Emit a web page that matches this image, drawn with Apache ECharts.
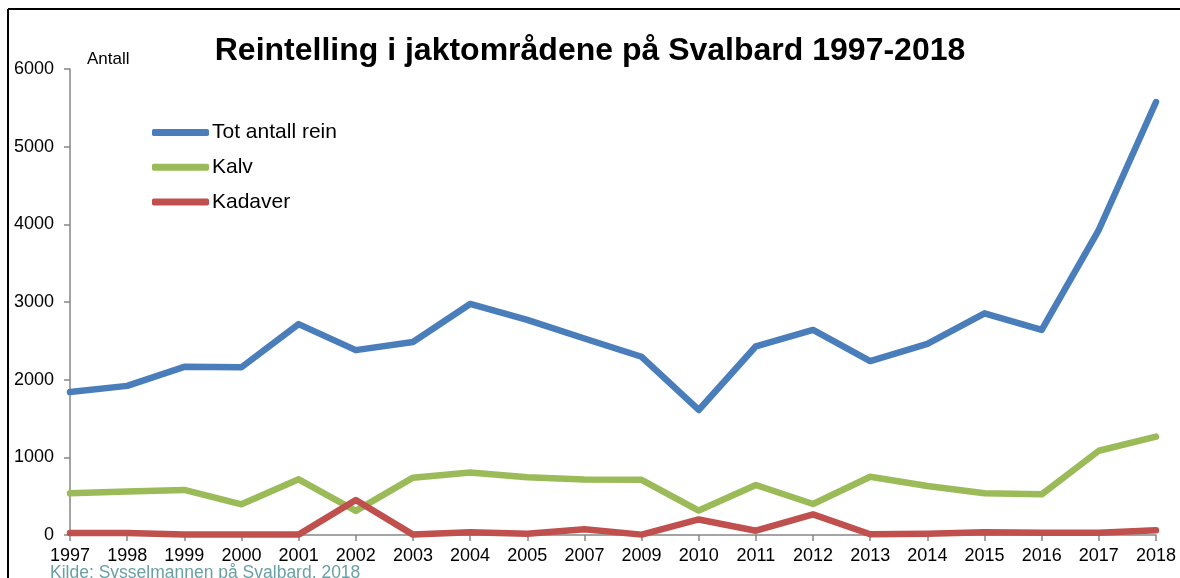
<!DOCTYPE html>
<html>
<head>
<meta charset="utf-8">
<script src="https://cdn.jsdelivr.net/npm/echarts@6/dist/echarts.min.js"></script>
<style>
html,body{margin:0;padding:0;background:#fff;}
#chart{width:1180px;height:578px;}
</style>
</head>
<body>
<div id="chart"></div>
<script>
const years = ['1997','1998','1999','2000','2001','2002','2003','2004','2005','2007','2009','2010','2011','2012','2013','2014','2015','2016','2017','2018'];
const totAntall = [1840,1920,2165,2160,2715,2380,2485,2975,2770,2530,2295,1610,2430,2640,2240,2460,2855,2640,3930,5575];
const kalv = [537,560,580,395,717,310,738,805,743,715,710,315,644,399,750,631,537,524,1085,1266];
const kadaver = [25,25,5,5,5,450,5,35,15,73,5,200,55,265,10,15,35,30,30,60];
const seriesNames = ['Tot antall rein','Kalv','Kadaver'];
const yTicks = [0,1000,2000,3000,4000,5000,6000];

const FONT = '"Liberation Sans", Arial, sans-serif';
const chart = echarts.init(document.getElementById('chart'), null, {renderer:'canvas'});
const colors = ['#4a7ebb','#9bbb59','#c0504d'];
const data = [totAntall, kalv, kadaver];

chart.setOption({
  animation:false,
  backgroundColor:'#fff',
  color: colors,
  title:{
    text:'Reintelling i jaktområdene på Svalbard 1997-2018',
    left:'center', top:30,
    textStyle:{fontFamily:FONT, fontSize:32, fontWeight:'bold', color:'#000'}
  },
  legend:{
    orient:'vertical', left:152, top:122, padding:0,
    itemWidth:57, itemHeight:7, itemGap:13.7,
    icon:'roundRect',
    textStyle:{fontFamily:FONT, fontSize:21, color:'#000', padding:[0,0,0,-2]},
    data: seriesNames
  },
  grid:{left:70, right:24, top:69, bottom:43, containLabel:false},
  xAxis:{
    type:'category', data:years, boundaryGap:false,
    axisLine:{lineStyle:{color:'#868686', width:1.5}},
    axisTick:{show:true, length:6, lineStyle:{color:'#868686', width:1.5}},
    axisLabel:{color:'#000', fontFamily:FONT, fontSize:18, margin:12},
    splitLine:{show:false}
  },
  yAxis:{
    type:'value', min:yTicks[0], max:yTicks[yTicks.length-1], interval:1000,
    axisLine:{show:true, lineStyle:{color:'#868686', width:1.5}},
    axisTick:{show:true, length:6, lineStyle:{color:'#868686', width:1.5}},
    axisLabel:{color:'#000', fontFamily:FONT, fontSize:18, margin:16, formatter: v => String(v)},
    splitLine:{show:false}
  },
  graphic:[
    {type:'line', shape:{x1:8,y1:9,x2:1180,y2:9}, style:{stroke:'#000', lineWidth:2}},
    {type:'line', shape:{x1:8,y1:9,x2:8,y2:578}, style:{stroke:'#000', lineWidth:2}},
    {type:'text', left:87, top:51, style:{text:'Antall', font:'17px '+FONT, fill:'#000'}},
    {type:'text', left:50, top:564, style:{text:'Kilde: Sysselmannen på Svalbard, 2018', font:'17.5px '+FONT, fill:'#6aa0a2'}}
  ],
  series: seriesNames.map((n,i)=>({
    name:n, type:'line', data:data[i], symbol:'none', smooth:false,
    lineStyle:{width:6.5, color:colors[i], cap:'round', join:'round'},
    itemStyle:{color:colors[i]}
  }))
});
</script>
</body>
</html>
